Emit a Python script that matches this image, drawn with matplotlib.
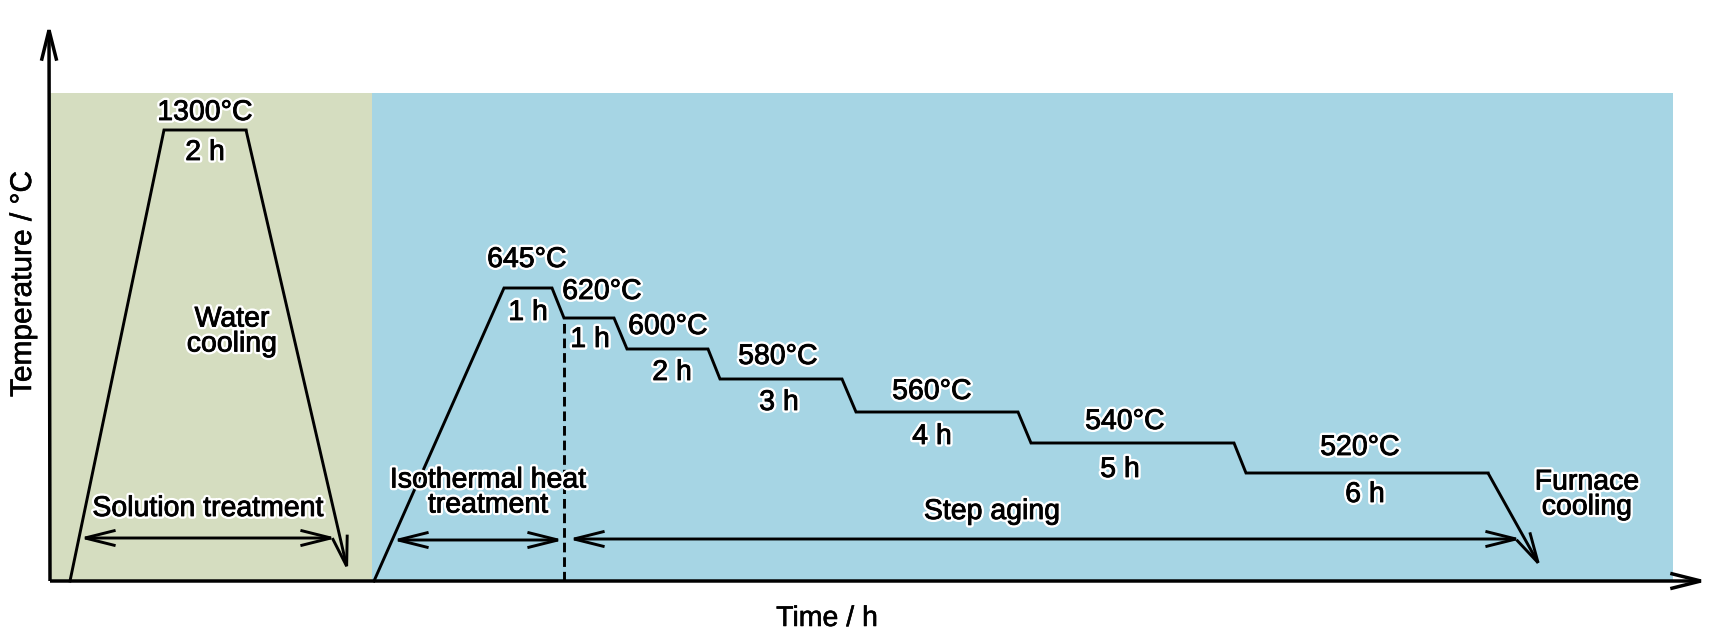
import matplotlib
matplotlib.use("Agg")
import matplotlib.pyplot as plt
from matplotlib.patches import Rectangle, FancyArrowPatch
import matplotlib.patheffects as pe

plt.rcParams['font.family'] = ['Liberation Sans', 'DejaVu Sans']

# ---- schematic data (time in schematic units, temperature in schematic units) ----
solution_time = [20, 114, 196, 298]
solution_temp = [0, 451, 451, 9]

aging_time = [324, 454, 502, 514, 564, 577, 658, 670, 792, 806, 968, 981, 1184, 1196, 1438, 1491]
aging_temp = [0, 293, 293, 263, 263, 232, 232, 202, 202, 169, 169, 138, 138, 108, 108, 13]

stage_split_time = 514          # end of isothermal treatment (dashed line)
stage_split_temp = 263

# background regions: (start, end, top)
solution_region = (0, 322, 488)
aging_region = (322, 1623, 488)
solution_color = "#d5ddc0"
aging_color = "#a6d5e4"

# temperature / hold labels
temp_labels = ["1300°C", "645°C", "620°C", "600°C", "580°C", "560°C", "540°C", "520°C"]
temp_label_x = [155, 477, 552, 618, 728, 882, 1075, 1310]
temp_label_y = [468, 321, 289, 254, 224, 189, 159, 133]

hold_labels = ["2 h", "1 h", "1 h", "2 h", "3 h", "4 h", "5 h", "6 h"]
hold_label_x = [155, 478, 540, 622, 729, 882, 1070, 1315]
hold_label_y = [428, 268, 241, 208, 178, 144, 111, 86]

stage_labels = ["Water\ncooling", "Solution treatment", "Isothermal heat\ntreatment",
                "Step aging", "Furnace\ncooling"]
stage_label_x = [182, 158, 438, 942, 1537]
stage_label_y = [249, 72, 88, 69, 86]

# stage span arrows: (x_start, x_end, y)
span_start = [29, 342, 518]
span_end = [287, 514, 1472]
span_y = [43, 41, 42]

x_label = "Time / h"
y_label = "Temperature / °C"

# ---- figure ----
W, H = 1713, 641
fig = plt.figure(figsize=(W / 100, H / 100), dpi=100)
ax = fig.add_axes([0, 0, 1, 1])
ax.set_xlim(-50, W - 50)
ax.set_ylim(-(H - 581), 581)
ax.axis('off')

# backgrounds
for (x0, x1, top), c in [(solution_region, solution_color), (aging_region, aging_color)]:
    ax.add_patch(Rectangle((x0, 0), x1 - x0, top, facecolor=c, edgecolor='none', zorder=0))

LW = 2.1
head = "->,head_length=22,head_width=5.5"


def arrow(p0, p1, lw=LW, style=head):
    a = FancyArrowPatch(p0, p1, arrowstyle=style, mutation_scale=1, lw=lw,
                        color='black', shrinkA=0, shrinkB=0, zorder=3,
                        capstyle='butt', joinstyle='miter')
    ax.add_patch(a)


# axes arrows
arrow((0, 0), (-1, 558), lw=2.5)
arrow((0, 0), (1658, 0), lw=2.5)

# profiles
ax.plot(solution_time[:-1], solution_temp[:-1], color='black', lw=LW, zorder=3,
        solid_joinstyle='miter')
arrow((solution_time[-2], solution_temp[-2]), (solution_time[-1], solution_temp[-1]))
ax.plot(aging_time[:-1], aging_temp[:-1], color='black', lw=LW, zorder=3,
        solid_joinstyle='miter')
arrow((aging_time[-2], aging_temp[-2]), (aging_time[-1], aging_temp[-1]))

# dashed separator
ax.plot([stage_split_time, stage_split_time], [0, stage_split_temp], color='black',
        lw=LW, ls=(0, (3.3, 1.7)), zorder=2)

# span arrows
for xs, xe, y in zip(span_start, span_end, span_y):
    arrow((xs, y), (xe, y), style="<->,head_length=22,head_width=5.5")

# texts (white halo, slightly heavier glyphs)
stroke = [pe.Stroke(linewidth=4, foreground='white'),
          pe.Stroke(linewidth=0.6, foreground='black'),
          pe.Normal()]
plain = [pe.Stroke(linewidth=0.4, foreground='black'), pe.Normal()]
FS = 20.5
for t, x, y in zip(temp_labels + hold_labels + stage_labels,
                   temp_label_x + hold_label_x + stage_label_x,
                   temp_label_y + hold_label_y + stage_label_y):
    ax.text(x, y, t, fontsize=FS, ha='center', va='center', linespacing=0.95,
            path_effects=stroke, zorder=5)

ax.text(777, -38, x_label, fontsize=FS, ha='center', va='center', path_effects=plain)
ax.text(-27, 297, y_label, fontsize=21.5, ha='center', va='center', rotation=90,
        path_effects=plain)

fig.savefig("out.png", dpi=100)
